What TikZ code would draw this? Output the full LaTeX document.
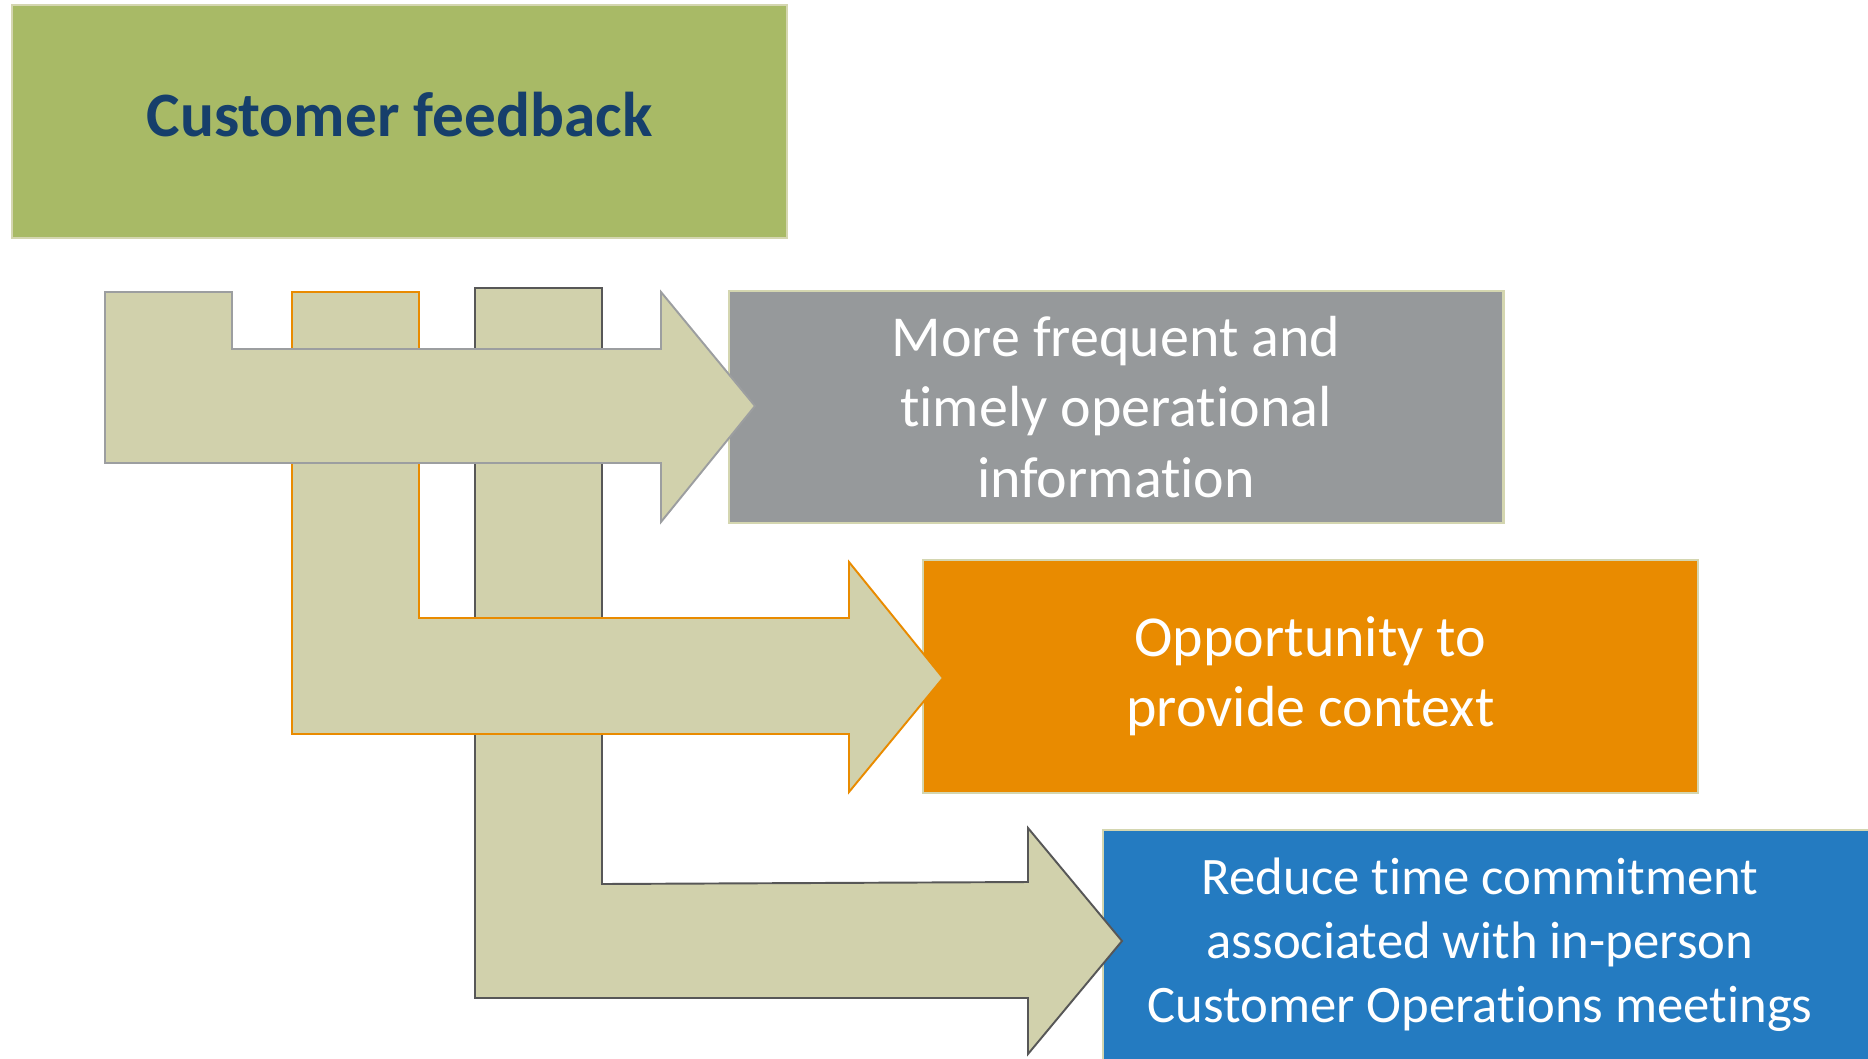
\documentclass[tikz,border=0pt]{standalone}
\usepackage{fontspec}
\setmainfont{Carlito}[Ligatures=NoCommon]

\definecolor{leaf}{HTML}{A8BA66}
\definecolor{navy}{HTML}{163F6B}
\definecolor{khaki}{HTML}{D1D1AC}
\definecolor{rim}{HTML}{D4D6B0}
\definecolor{slate}{HTML}{96999B}
\definecolor{amber}{HTML}{E98B00}
\definecolor{ocean}{HTML}{247BC1}
\definecolor{edgegray}{HTML}{9C9EA0}
\definecolor{edgedark}{HTML}{575757}

\tikzset{
  box/.style={draw=rim, line width=1.2pt, minimum width=15.5cm, minimum height=4.65cm,
    align=center, inner sep=0pt},
  flow/.style={fill=khaki, line width=1.1pt, line join=miter}
}

\begin{document}
\begin{tikzpicture}[x=0.02cm, y=-0.02cm]
\useasboundingbox (0,0) rectangle (1868,1058);
\clip (0,0) rectangle (1868,1058);

  \node[box, fill=leaf, text=navy, font=\fontsize{36}{43}\selectfont\bfseries]
    (feedback) at (399.5,121.5) {\raisebox{8pt}{Customer feedback}};
  \node[box, fill=slate, text=white, font=\fontsize{33}{40}\selectfont]
    (info) at (1116,407) {More frequent and\\timely operational\\information};
  \node[box, fill=amber, text=white, font=\fontsize{33}{40}\selectfont]
    (context) at (1310.5,676.5) {Opportunity to\\provide context};
  \node[box, fill=ocean, text=white, font=\fontsize{30}{36.5}\selectfont]
    (meetings) at (1490.5,946) {\begin{tabular}{@{}c@{}}Reduce time commitment\\associated with in-person\\Customer Operations meetings\end{tabular}\hspace*{12pt}};

  % third arrow, lowest
  \draw[flow, draw=edgedark] (475,288) -- (602,288) -- (602,884) -- (1028,882)
    -- (1028,828) -- (1122,941) -- (1028,1054) -- (1028,998) -- (475,998) -- cycle;
  % second arrow
  \draw[flow, draw=amber] (292,292) -- (419,292) -- (419,618) -- (849,618)
    -- (849,562) -- (943,678) -- (849,792) -- (849,734) -- (292,734) -- cycle;
  % first arrow, on top
  \draw[flow, draw=edgegray] (105,292) -- (232,292) -- (232,349) -- (661,349)
    -- (661,292) -- (755,406) -- (661,522) -- (661,463) -- (105,463) -- cycle;
\end{tikzpicture}
\end{document}
